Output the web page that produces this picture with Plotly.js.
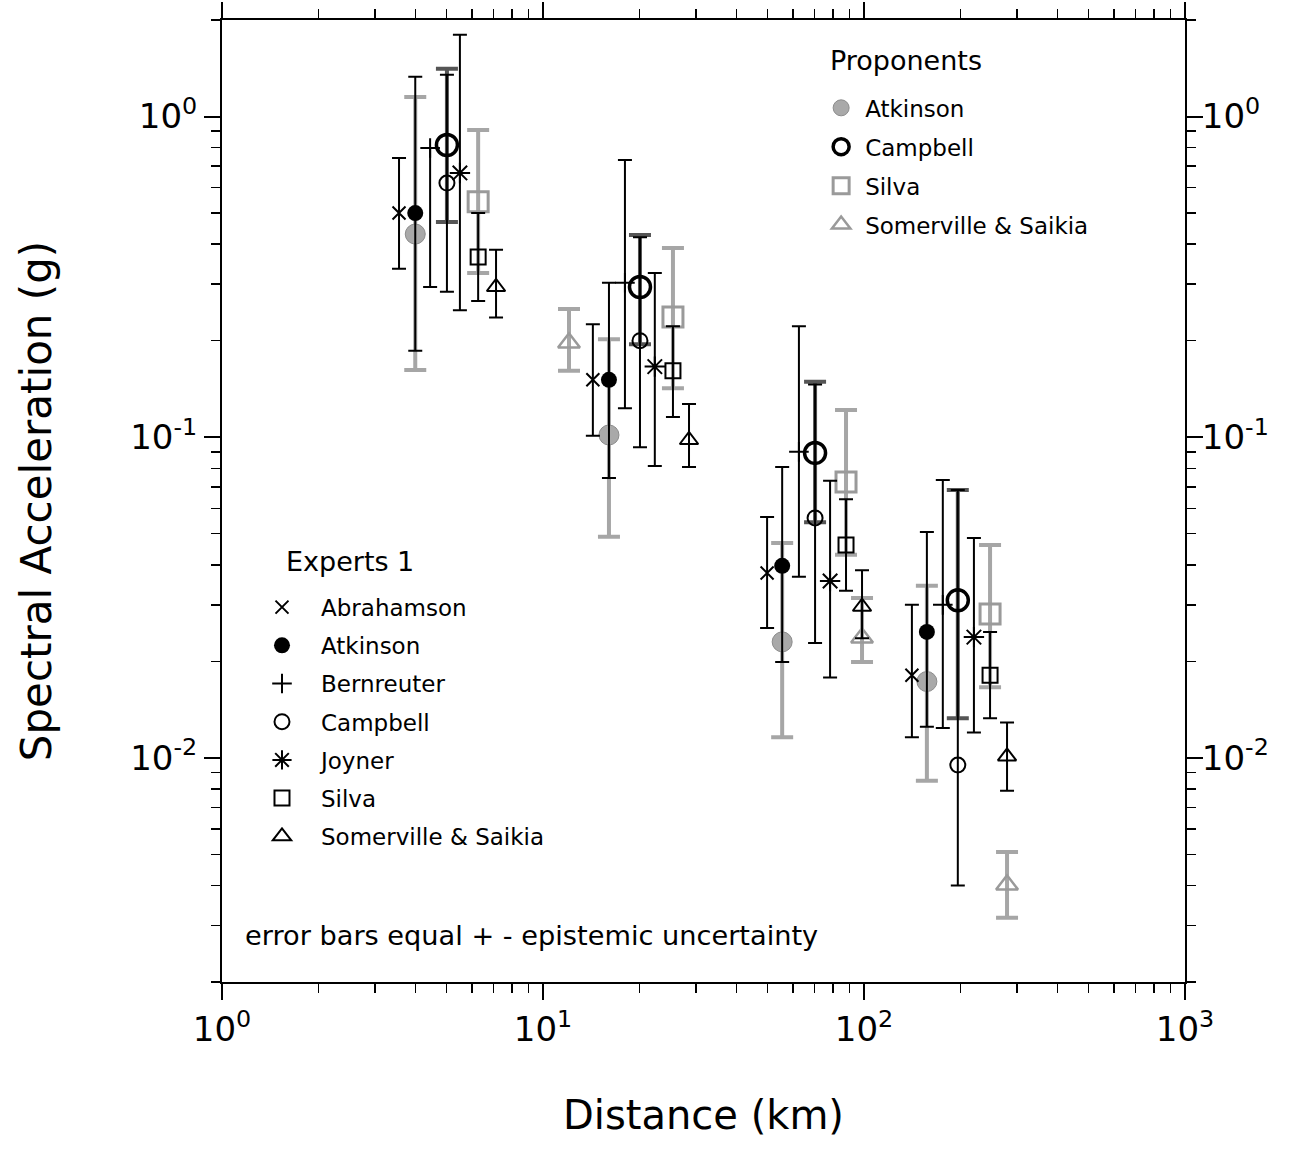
<!DOCTYPE html>
<html><head><meta charset="utf-8">
<script src="https://cdn.plot.ly/plotly-3.0.1.min.js"></script>
<style>html,body{margin:0;padding:0;background:#fff}#chart{width:1305px;height:1155px}</style>
</head><body><div id="chart"></div>
<script>
// ---- Experts 1 ----
const abrahamsonX = [3.56, 14.3, 49.9, 141];
const abrahamsonY = [0.50, 0.151, 0.0377, 0.0181];
const abrahamsonHi = [0.743, 0.225, 0.0564, 0.030];
const abrahamsonLo = [0.335, 0.101, 0.0254, 0.0116];

const atkinsonX = [4.0, 16.05, 55.6, 157];
const atkinsonY = [0.50, 0.151, 0.0397, 0.0247];
const atkinsonHi = [1.33, 0.303, 0.0807, 0.0506];
const atkinsonLo = [0.186, 0.0746, 0.0199, 0.0125];

const bernreuterX = [4.45, 18.0, 62.7, 176];
const bernreuterY = [0.798, 0.303, 0.090, 0.030];
const bernreuterHi = [0.798, 0.732, 0.222, 0.0736];
const bernreuterLo = [0.294, 0.123, 0.0367, 0.0124];

const campbellX = [5.02, 20.05, 70.4, 196];
const campbellY = [0.62, 0.200, 0.056, 0.0095];
const campbellHi = [1.35, 0.42, 0.146, 0.0684];
const campbellLo = [0.284, 0.093, 0.0228, 0.0040];

const joynerX = [5.51, 22.3, 78.4, 220];
const joynerY = [0.667, 0.166, 0.0356, 0.0238];
const joynerHi = [1.80, 0.325, 0.0731, 0.0485];
const joynerLo = [0.249, 0.0813, 0.0178, 0.0120];

const silvaX = [6.28, 25.4, 87.9, 247];
const silvaY = [0.365, 0.161, 0.0461, 0.0181];
const silvaHi = [0.50, 0.222, 0.0641, 0.0247];
const silvaLo = [0.266, 0.1156, 0.0332, 0.0133];

const somervilleX = [7.14, 28.5, 98.6, 279];
const somervilleY = [0.294, 0.098, 0.0296, 0.0101];
const somervilleHi = [0.384, 0.127, 0.0385, 0.0129];
const somervilleLo = [0.236, 0.0807, 0.0236, 0.0079];

// ---- Proponents ----
const pAtkinsonX = [4.0, 16.05, 55.6, 157];
const pAtkinsonY = [0.43, 0.1016, 0.023, 0.0173];
const pAtkinsonHi = [1.15, 0.202, 0.0468, 0.0344];
const pAtkinsonLo = [0.162, 0.0489, 0.0116, 0.00848];

const pCampbellX = [5.02, 20.05, 70.4, 196];
const pCampbellY = [0.815, 0.294, 0.0893, 0.031];
const pCampbellHi = [1.41, 0.427, 0.149, 0.0684];
const pCampbellLo = [0.469, 0.195, 0.0543, 0.0133];

const pSilvaX = [6.28, 25.4, 87.9, 247];
const pSilvaY = [0.542, 0.237, 0.0725, 0.0281];
const pSilvaHi = [0.908, 0.389, 0.1216, 0.0461];
const pSilvaLo = [0.325, 0.142, 0.043, 0.0166];

const pSomervilleX = [12.05, 98.6, 279];
const pSomervilleY = [0.197, 0.0237, 0.00402];
const pSomervilleHi = [0.251, 0.0315, 0.00509];
const pSomervilleLo = [0.161, 0.0199, 0.00317];

// ---- Ticks ----
const xTickVals = [1, 10, 100, 1000];
const xTickText = ['10<sup>0</sup>', '10<sup>1</sup>', '10<sup>2</sup>', '10<sup>3</sup>'];
const yTickVals = [0.01, 0.1, 1];
const yTickText = ['10<sup>-2</sup>', '10<sup>-1</sup>', '10<sup>0</sup>'];

const xMinor = [];
[1, 10, 100].forEach(d => { for (let k = 2; k <= 9; k++) xMinor.push(k * d); });
const yMinor = [];
[0.001, 0.01, 0.1, 1].forEach(d => { for (let k = 2; k <= 9; k++) { const v = k * d; if (v >= 0.002 && v <= 2.0001) yMinor.push(v); } });

const FONT = 'DejaVu Sans, Liberation Sans, Arial, sans-serif';

function mk(name, xs, ys, hi, lo, marker, err, legend) {
  return {
    type: 'scatter', mode: 'markers', name: name, x: xs, y: ys,
    legend: legend, legendgroup: legend + name,
    marker: marker, cliponaxis: false,
    error_y: {
      type: 'data', symmetric: false, visible: true,
      array: hi.map((h, i) => h - ys[i]),
      arrayminus: lo.map((l, i) => ys[i] - l),
      color: err.color, thickness: err.thickness, width: err.width
    }
  };
}

const PGREY = '#9a9a9a';
const pErr = {color: '#a6a6a6', thickness: 4, width: 11};
const eErr = {color: '#000', thickness: 2, width: 7};

const traces = [
  mk('Atkinson', pAtkinsonX, pAtkinsonY, pAtkinsonHi, pAtkinsonLo,
     {symbol: 'circle', size: 20, color: '#a9a9a9', line: {color: '#8c8c8c', width: 1}}, pErr, 'legend'),
  mk('Campbell', pCampbellX, pCampbellY, pCampbellHi, pCampbellLo,
     {symbol: 'circle-open', size: 21, color: '#000', line: {color: '#000', width: 3.5}},
     {color: '#555', thickness: 4, width: 11}, 'legend'),
  mk('Silva', pSilvaX, pSilvaY, pSilvaHi, pSilvaLo,
     {symbol: 'square-open', size: 20, color: PGREY, line: {color: PGREY, width: 3}}, pErr, 'legend'),
  mk('Somerville & Saikia', pSomervilleX, pSomervilleY, pSomervilleHi, pSomervilleLo,
     {symbol: 'triangle-up-open', size: 19, color: PGREY, line: {color: PGREY, width: 2.5}}, pErr, 'legend'),

  mk('Abrahamson', abrahamsonX, abrahamsonY, abrahamsonHi, abrahamsonLo,
     {symbol: 'x-thin-open', size: 13, color: '#000', line: {color: '#000', width: 2}}, eErr, 'legend2'),
  mk('Atkinson', atkinsonX, atkinsonY, atkinsonHi, atkinsonLo,
     {symbol: 'circle', size: 16, color: '#000', line: {color: '#000', width: 0}}, eErr, 'legend2'),
  mk('Bernreuter', bernreuterX, bernreuterY, bernreuterHi, bernreuterLo,
     {symbol: 'cross-thin-open', size: 14, color: '#000', line: {color: '#000', width: 2}}, eErr, 'legend2'),
  mk('Campbell', campbellX, campbellY, campbellHi, campbellLo,
     {symbol: 'circle-open', size: 15, color: '#000', line: {color: '#000', width: 2}}, eErr, 'legend2'),
  mk('Joyner', joynerX, joynerY, joynerHi, joynerLo,
     {symbol: 'asterisk-open', size: 17, color: '#000', line: {color: '#000', width: 2}}, eErr, 'legend2'),
  mk('Silva', silvaX, silvaY, silvaHi, silvaLo,
     {symbol: 'square-open', size: 15, color: '#000', line: {color: '#000', width: 2}}, eErr, 'legend2'),
  mk('Somerville & Saikia', somervilleX, somervilleY, somervilleHi, somervilleLo,
     {symbol: 'triangle-up-open', size: 16, color: '#000', line: {color: '#000', width: 2}}, eErr, 'legend2'),

  {type: 'scatter', x: [], y: [], xaxis: 'x2', yaxis: 'y2', showlegend: false, hoverinfo: 'skip'}
];

const yRange = [Math.log10(0.002), Math.log10(2)];
const axisCommon = {
  type: 'log', showline: true, linecolor: '#000', linewidth: 2, mirror: false,
  showgrid: false, zeroline: false, ticks: 'outside', ticklen: 16, tickwidth: 2, tickcolor: '#000',
  tickmode: 'array',
  tickfont: {family: FONT, size: 34, color: '#000'}
};
const minorCommon = {ticks: 'outside', ticklen: 9, tickwidth: 1.5, tickcolor: '#000', showgrid: false, tickmode: 'array'};

const layout = {
  width: 1305, height: 1155,
  margin: {l: 222, r: 120, t: 20, b: 173},
  paper_bgcolor: '#fff', plot_bgcolor: '#fff',
  font: {family: FONT, color: '#000'},
  showlegend: true,
  xaxis: Object.assign({}, axisCommon, {
    range: [0, 3], tickvals: xTickVals, ticktext: xTickText,
    minor: Object.assign({tickvals: xMinor}, minorCommon),
    title: {text: 'Distance (km)', font: {family: FONT, size: 40, color: '#000'}, standoff: 53}
  }),
  xaxis2: Object.assign({}, axisCommon, {
    range: [0, 3], overlaying: 'x', side: 'top', anchor: 'y', showticklabels: false,
    tickvals: xTickVals,
    minor: Object.assign({tickvals: xMinor}, minorCommon)
  }),
  yaxis: Object.assign({}, axisCommon, {
    range: yRange, tickvals: yTickVals, ticktext: yTickText,
    minor: Object.assign({tickvals: yMinor}, minorCommon),
    title: {text: 'Spectral Acceleration (g)', font: {family: FONT, size: 42, color: '#000'}, standoff: 66}
  }),
  yaxis2: Object.assign({}, axisCommon, {
    range: yRange, overlaying: 'y', side: 'right', anchor: 'x', showticklabels: true,
    tickvals: yTickVals, ticktext: yTickText, ticklabelstandoff: -8,
    minor: Object.assign({tickvals: yMinor}, minorCommon)
  }),
  legend: {
    x: 0.618, y: 0.931, xanchor: 'left', yanchor: 'top',
    bgcolor: 'rgba(0,0,0,0)', borderwidth: 0, itemwidth: 38,
    font: {family: FONT, size: 23, color: '#000'},
    traceorder: 'grouped', tracegroupgap: 6
  },
  legend2: {
    x: 0.0218, y: 0.412, xanchor: 'left', yanchor: 'top',
    bgcolor: 'rgba(0,0,0,0)', borderwidth: 0, itemwidth: 68,
    font: {family: FONT, size: 23, color: '#000'},
    traceorder: 'grouped', tracegroupgap: 5.3
  },
  annotations: [
    {text: 'Proponents', xref: 'paper', yref: 'paper', x: 0.629, y: 0.958, xanchor: 'left', yanchor: 'middle',
     showarrow: false, font: {family: FONT, size: 27, color: '#000'}},
    {text: 'Experts 1', xref: 'paper', yref: 'paper', x: 0.0644, y: 0.4376, xanchor: 'left', yanchor: 'middle',
     showarrow: false, font: {family: FONT, size: 27, color: '#000'}},
    {text: 'error bars equal + - epistemic uncertainty', xref: 'paper', yref: 'paper', x: 0.022, y: 0.048,
     xanchor: 'left', yanchor: 'middle', showarrow: false, font: {family: FONT, size: 27.2, color: '#000'}}
  ]
};

Plotly.newPlot('chart', traces, layout, {displayModeBar: false, staticPlot: true});
</script>
</body></html>
